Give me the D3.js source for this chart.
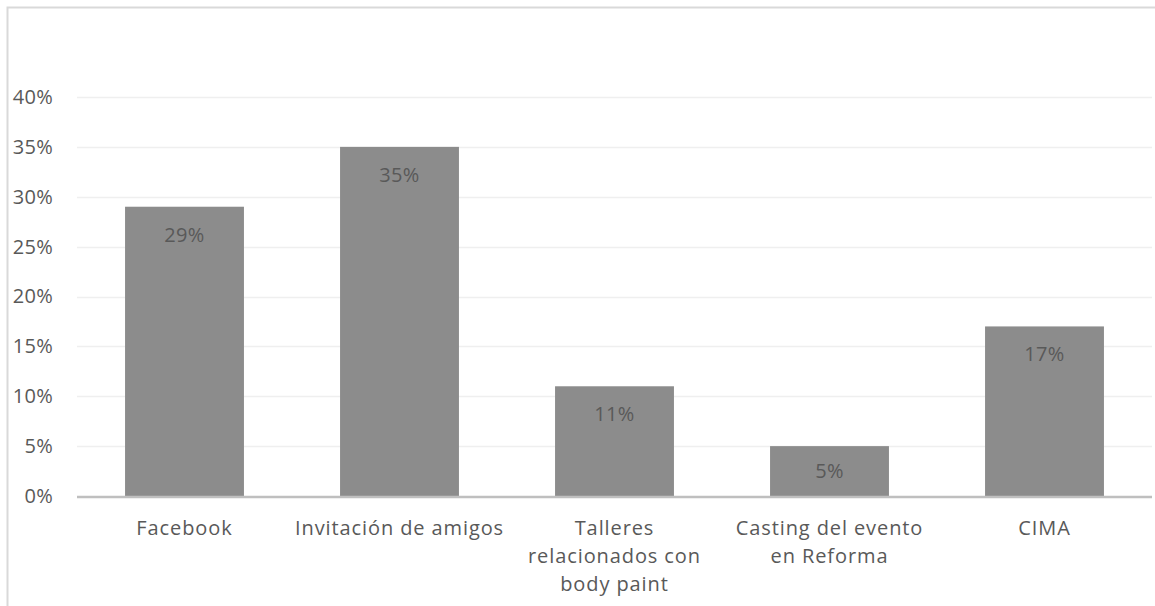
<!DOCTYPE html>
<html><head><meta charset="utf-8">
<script src="https://cdn.jsdelivr.net/npm/d3@7"></script>
<style>
html,body{margin:0;padding:0;background:#fff;}
svg{display:block;}
text{font-family:"Open Sans","Noto Sans",sans-serif;fill:#595959;}
</style></head>
<body>
<svg id="chart" width="1155" height="606"></svg>
<script>
const categories = [["Facebook"],["Invitación de amigos"],["Talleres","relacionados con","body paint"],["Casting del evento","en Reforma"],["CIMA"]];
const values = [0.29,0.35,0.11,0.05,0.17];
const valueLabels = ["29%","35%","11%","5%","17%"];
const yTicks = [0,0.05,0.10,0.15,0.20,0.25,0.30,0.35,0.40];

const svg = d3.select("#chart");
// chart border
svg.append("rect").attr("x",7.5).attr("y",7.5).attr("width",1160).attr("height",610)
  .attr("fill","none").attr("stroke","#d9d9d9").attr("stroke-width",2);

const left=77, right=1152, y0=496, yTop=97;
const x = d3.scaleBand().domain(d3.range(values.length)).range([left,right]).paddingInner(0.447).paddingOuter(0.2235);
const y = d3.scaleLinear().domain([0,0.4]).range([y0,yTop]);

// gridlines
svg.append("g").selectAll("line").data(yTicks.slice(1)).join("line")
  .attr("x1",left).attr("x2",right).attr("y1",d=>Math.round(y(d))+0.5).attr("y2",d=>Math.round(y(d))+0.5)
  .attr("stroke","#efefef").attr("stroke-width",1.5);

// y axis labels
const yAxis = d3.axisLeft(y).tickValues(yTicks).tickFormat(d3.format(".0%")).tickSize(0).tickPadding(0);
const gy = svg.append("g").attr("transform",`translate(53,0)`).call(yAxis);
gy.select(".domain").remove();
gy.selectAll("text").attr("font-size","20px").attr("letter-spacing","0.3px").attr("fill","#595959")
  .style("font-family",'"Open Sans","Noto Sans",sans-serif');

// bars
svg.append("g").selectAll("rect").data(values).join("rect")
  .attr("x",(d,i)=>x(i)).attr("width",x.bandwidth())
  .attr("y",d=>y(d)).attr("height",d=>y0-y(d))
  .attr("fill","#8c8c8c");

// value labels
svg.append("g").selectAll("text").data(values).join("text")
  .attr("x",(d,i)=>x(i)+x.bandwidth()/2)
  .attr("y",d=>Math.min(y(d)+35,(y(d)+y0)/2+7))
  .attr("text-anchor","middle")
  .attr("font-size","20px").attr("letter-spacing","0.3px").attr("fill","#404040")
  .text((d,i)=>valueLabels[i]);

// x axis line
svg.append("line").attr("x1",left).attr("x2",right).attr("y1",y0+1).attr("y2",y0+1)
  .attr("stroke","#bfbfbf").attr("stroke-width",2.5);

// x labels
const gx = svg.append("g");
categories.forEach((lines,i)=>{
  const t = gx.append("text").attr("text-anchor","middle").attr("font-size","20px").attr("letter-spacing","0.9px");
  lines.forEach((ln,j)=>{
    t.append("tspan").attr("x",x(i)+x.bandwidth()/2).attr("y",535+j*28).text(ln);
  });
});
</script>
</body></html>
